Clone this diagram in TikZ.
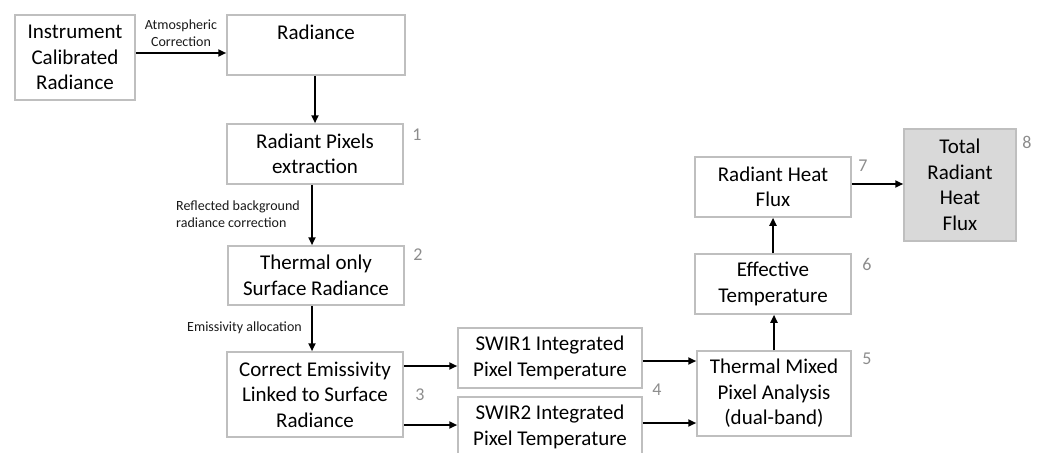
\documentclass[tikz,border=0pt]{standalone}
\usepackage{fontspec}
\setmainfont{Carlito}
\usetikzlibrary{arrows.meta}
\definecolor{boxgray}{HTML}{BFBFBF}
\definecolor{numgray}{HTML}{8C8C8C}
\definecolor{fillgray}{HTML}{D9D9D9}
\begin{document}
\begin{tikzpicture}[x=1pt,y=-1pt,
  box/.style={draw=boxgray, line width=1.5pt, rectangle, align=center, inner sep=0pt,
    font=\fontsize{21pt}{25.5pt}\selectfont, text=black},
  arr/.style={-{Triangle[length=8pt,width=7pt]}, line width=2pt, black},
  lab/.style={inner sep=0pt, font=\fontsize{14pt}{17pt}\selectfont, text=black!90},
  num/.style={inner sep=0pt, font=\fontsize{18pt}{20pt}\selectfont, text=numgray}]
\useasboundingbox (0,0) rectangle (1043,452);
\clip (0,0) rectangle (1043,452);
% boxes
\node[box, minimum width=120pt, minimum height=85pt] (inst) at (75,57.5) {Instrument\\Calibrated\\Radiance};
\node[box, minimum width=178pt, minimum height=60pt] (rad) at (316,45) {Radiance\\~};
\node[box, minimum width=176pt, minimum height=60pt] (rpe) at (315,154) {Radiant Pixels\\extraction};
\node[box, minimum width=176pt, minimum height=59pt] (tos) at (316,275.5) {Thermal only\\Surface Radiance};
\node[box, minimum width=176pt, minimum height=85pt] (cem) at (315,394.5) {Correct Emissivity\\Linked to Surface\\Radiance};
\node[box, minimum width=184pt, minimum height=60pt] (sw1) at (550,358) {SWIR1 Integrated\\Pixel Temperature};
\node[box, minimum width=184pt, minimum height=60pt] (sw2) at (550,427) {SWIR2 Integrated\\Pixel Temperature};
\node[box, minimum width=154pt, minimum height=85pt] (tm) at (774,393.5) {Thermal Mixed\\Pixel Analysis\\(dual-band)};
\node[box, minimum width=156pt, minimum height=60pt] (eff) at (773,284) {Effective\\Temperature};
\node[box, minimum width=156pt, minimum height=60pt] (rhf) at (773,187) {Radiant Heat\\Flux};
\node[box, fill=fillgray, minimum width=112pt, minimum height=112pt] (tot) at (960,185) {Total\\Radiant\\Heat\\Flux};
% arrows
\draw[arr] (inst.east |- 0,53) -- (rad.west |- 0,53);
\draw[arr] (rad.south -| 315,0) -- (rpe.north -| 315,0);
\draw[arr] (rpe.south -| 312,0) -- (tos.north -| 312,0);
\draw[arr] (tos.south -| 312,0) -- (cem.north -| 312,0);
\draw[arr] (cem.east |- 0,366) -- (sw1.west |- 0,366);
\draw[arr] (cem.east |- 0,425) -- (sw2.west |- 0,425);
\draw[arr] (sw1.east |- 0,361) -- (tm.west |- 0,361);
\draw[arr] (sw2.east |- 0,423) -- (tm.west |- 0,423);
\draw[arr] (tm.north -| 774,0) -- (eff.south -| 774,0);
\draw[arr] (eff.north -| 773,0) -- (rhf.south -| 773,0);
\draw[arr] (rhf.east |- 0,184) -- (tot.west |- 0,184);
% edge labels
\node[lab, align=center] (latm) at (181,33.5) {Atmospheric\\Correction};
\node[lab, align=left, anchor=west] (lref) at (176,214.5) {Reflected background\\radiance correction};
\node[lab, anchor=east] (lemi) at (302,328) {Emissivity allocation};
% step numbers
\node[num] (n1) at (417,135) {1};
\node[num] (n2) at (418,255) {2};
\node[num] (n3) at (420,395) {3};
\node[num] (n4) at (657,390) {4};
\node[num] (n5) at (867,359) {5};
\node[num] (n6) at (867,264) {6};
\node[num] (n7) at (863,166) {7};
\node[num] (n8) at (1027,142) {8};
\end{tikzpicture}
\end{document}
